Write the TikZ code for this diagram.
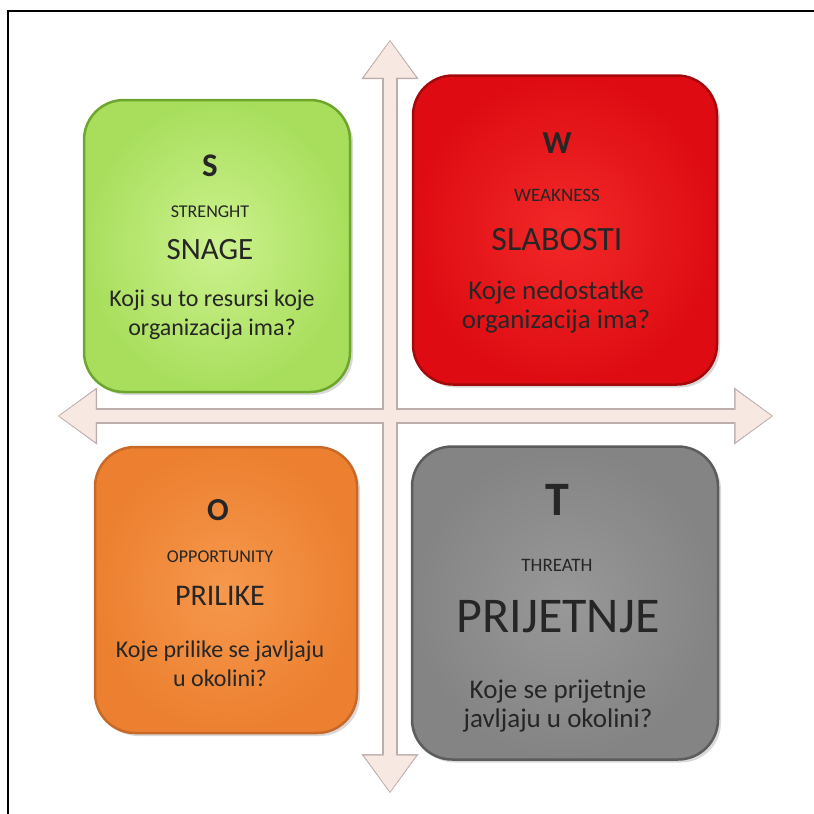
\documentclass[tikz,border=0pt]{standalone}
\usepackage{fontspec}
\setmainfont{Carlito}
\usetikzlibrary{arrows.meta,shadows}

\definecolor{sgreen}{RGB}{204,242,142}
\definecolor{sgreenout}{RGB}{168,222,92}
\definecolor{sgreenedge}{RGB}{110,165,45}
\definecolor{wred}{RGB}{242,40,40}
\definecolor{wredout}{RGB}{222,12,18}
\definecolor{wrededge}{RGB}{165,8,10}
\definecolor{oorange}{RGB}{246,152,76}
\definecolor{oorangeout}{RGB}{236,128,48}
\definecolor{oorangeedge}{RGB}{200,105,40}
\definecolor{tgray}{RGB}{152,152,152}
\definecolor{tgrayout}{RGB}{132,132,132}
\definecolor{tgrayedge}{RGB}{92,92,92}
\definecolor{axisgray}{RGB}{188,172,170}
\definecolor{axispale}{RGB}{248,232,226}

\begin{document}
\begin{tikzpicture}[x=1pt, y=-1pt,
  quad/.style = {draw, line width=2.5pt, rounded corners=40pt,
    drop shadow={shadow xshift=3pt, shadow yshift=-3pt, opacity=.3}},
  axisedge/.style = {line width=16pt, draw=axisgray,
    {Triangle[width=57pt, length=39pt, line width'=0.5pt]}-{Triangle[width=57pt, length=39pt, line width'=0.5pt]}},
  axisfill/.style = {line width=12pt, draw=axispale, shorten <=1.5pt, shorten >=1.5pt,
    {Triangle[width=52pt, length=36pt, line width'=0.5pt]}-{Triangle[width=52pt, length=36pt, line width'=0.5pt]}},
  letter/.style = {text=black!85, font=\fontsize{#1}{#1}\selectfont\bfseries},
  en/.style = {text=black!85, font=\fontsize{#1}{#1}\selectfont},
  hr/.style = {text=black!85, font=\fontsize{#1}{#1}\selectfont},
  q/.style = {text=black!85, align=center, font=\fontsize{#1}{29}\selectfont}]
\useasboundingbox (0,0) rectangle (814,814);
\draw[line width=1.5pt] (8,830) |- (830,11);

% axes
\coordinate (top) at (390,40);
\coordinate (bottom) at (390,793);
\coordinate (left) at (58,416);
\coordinate (right) at (773,416);
\draw[axisedge] (bottom) -- (top);
\draw[axisedge] (left) -- (right);
\draw[axisfill] (bottom) -- (top);
\draw[axisfill] (left) -- (right);

% quadrants
\node[quad, inner color=sgreen, outer color=sgreenout, draw=sgreenedge, minimum width=266pt, minimum height=292pt] (s) at (217,246) {};
\node[quad, inner color=wred, outer color=wredout, draw=wrededge, minimum width=304pt, minimum height=309pt] (w) at (565,230) {};
\node[quad, inner color=oorange, outer color=oorangeout, draw=oorangeedge, minimum width=262pt, minimum height=286pt] (o) at (226,590) {};
\node[quad, inner color=tgray, outer color=tgrayout, draw=tgrayedge, minimum width=306pt, minimum height=313pt] (t) at (565,603) {};

% S
\node[letter=33] (s-l) at (210,166) {S};
\node[en=18] (s-en) at (210,212) {STRENGHT};
\node[hr=31] (s-hr) at (210,250) {SNAGE};
\node[q=24] (s-q) at (212,315) {Koji su to resursi koje\\organizacija ima?};
% W
\node[letter=32] (w-l) at (557,143) {W};
\node[en=19] (w-en) at (557,195) {WEAKNESS};
\node[hr=34] (w-hr) at (557,240) {SLABOSTI};
\node[q=27] (w-q) at (556,307) {Koje nedostatke\\organizacija ima?};
% O
\node[letter=32] (o-l) at (218,510) {O};
\node[en=18] (o-en) at (220,557) {OPPORTUNITY};
\node[hr=30] (o-hr) at (220,596) {PRILIKE};
\node[q=24] (o-q) at (220,664) {Koje prilike se javljaju\\u okolini?};
% T
\node[letter=48] (t-l) at (557,500) {T};
\node[en=19] (t-en) at (557,565) {THREATH};
\node[hr=50] (t-hr) at (558,617) {PRIJETNJE};
\node[q=27] (t-q) at (558,706) {Koje se prijetnje\\javljaju u okolini?};
\end{tikzpicture}
\end{document}
